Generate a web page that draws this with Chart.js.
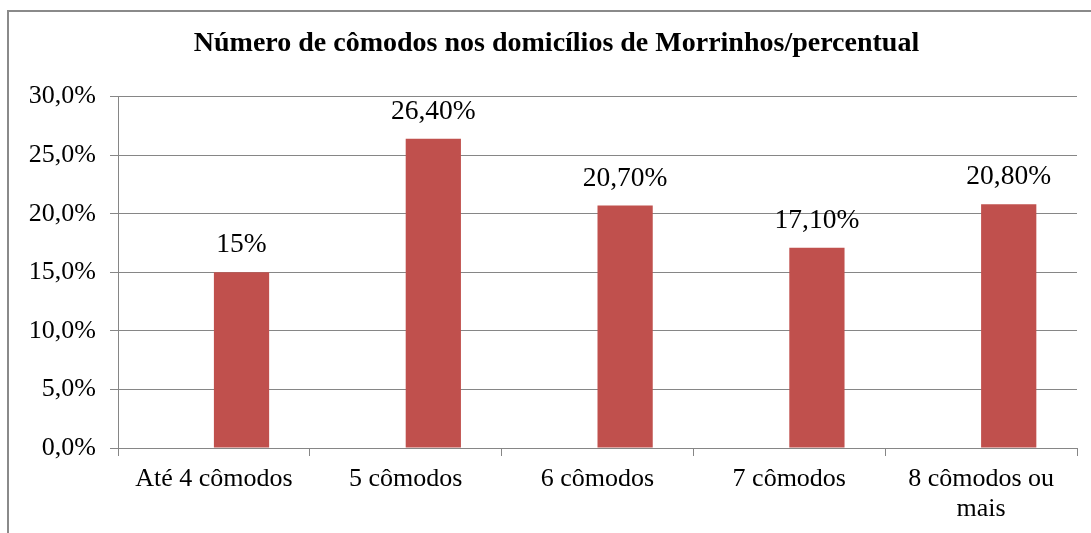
<!DOCTYPE html>
<html>
<head>
<meta charset="utf-8">
<script src="https://cdn.jsdelivr.net/npm/chart.js@4.4.1/dist/chart.umd.min.js"></script>
<style>
  html, body { margin: 0; padding: 0; background: #fff; }
  #wrap { position: relative; width: 1091px; height: 533px; }
  #frame {
    position: absolute; left: 7px; top: 10px; right: -10px; bottom: -10px;
    border-left: 2px solid #8a8a8a; border-top: 2px solid #8a8a8a;
  }
  canvas { position: absolute; left: 0; top: 0; }
</style>
</head>
<body>
<div id="wrap">
  <div id="frame"></div>
  <canvas id="chart" width="1091" height="533"></canvas>
</div>
<script>
const titleText = 'Número de cômodos nos domicílios de Morrinhos/percentual';
const categories = ['Até 4 cômodos', '5 cômodos', '6 cômodos', '7 cômodos', ['8 cômodos ou', 'mais']];
const percentValues = [15, 26.4, 20.7, 17.1, 20.8];
const valueLabels = ['15%', '26,40%', '20,70%', '17,10%', '20,80%'];
const emptySeries = [null, null, null, null, null]; // série vazia do Excel (desloca as barras)
const yTicks = [0, 5, 10, 15, 20, 25, 30];

const serif = "'Liberation Serif', 'Times New Roman', serif";
const gridColor = '#868686';

// rótulos de dados acima das barras
const barLabels = {
  id: 'barLabels',
  afterLayout(chart) {
    // o quadro original é mais largo que o recorte: título centrado mais à direita
    chart.titleBlock.left += 36;
  },
  afterDatasetsDraw(chart) {
    const ctx = chart.ctx;
    const meta = chart.getDatasetMeta(1);
    ctx.save();
    ctx.font = '27.5px ' + serif;
    ctx.fillStyle = '#000';
    ctx.textAlign = 'center';
    ctx.textBaseline = 'alphabetic';
    meta.data.forEach((bar, i) => {
      ctx.fillText(valueLabels[i], bar.x, bar.y - 20);
    });
    ctx.restore();
  }
};

const ctx = document.getElementById('chart').getContext('2d');
const chart = new Chart(ctx, {
  type: 'bar',
  data: {
    labels: categories,
    datasets: [
      {
        label: '',
        data: emptySeries,
        backgroundColor: 'rgba(0,0,0,0)'
      },
      {
        label: 'Percentual',
        data: percentValues,
        backgroundColor: '#C0504D'
      }
    ]
  },
  options: {
    responsive: false,
    animation: false,
    devicePixelRatio: 1,
    layout: { padding: { left: 0, right: 14, top: 27, bottom: 0 } },
    categoryPercentage: 0.576,
    barPercentage: 1,
    plugins: {
      legend: { display: false },
      tooltip: { enabled: false },
      title: {
        display: true,
        text: titleText,
        color: '#000',
        font: { family: serif, size: 28, weight: 'bold' },
        padding: { top: 0, bottom: 36 }
      }
    },
    scales: {
      x: {
        afterFit: (scale) => { scale.height = 85; },
        grid: {
          offset: true,
          drawOnChartArea: false,
          drawTicks: true,
          tickLength: 8,
          color: gridColor
        },
        border: { display: true, color: gridColor, width: 1 },
        ticks: {
          color: '#000',
          font: { family: serif, size: 26, lineHeight: 1.15 },
          padding: 8,
          maxRotation: 0,
          autoSkip: false
        }
      },
      y: {
        min: 0,
        max: 30,
        afterFit: (scale) => { scale.width = 118; },
        afterBuildTicks: (scale) => { scale.ticks = yTicks.map(v => ({ value: v })); },
        grid: {
          color: gridColor,
          drawTicks: true,
          tickLength: 8
        },
        border: { display: true, color: gridColor, width: 1 },
        ticks: {
          color: '#000',
          font: { family: serif, size: 26 },
          padding: 14,
          callback: (v) => v.toFixed(1).replace('.', ',') + '%'
        }
      }
    }
  },
  plugins: [barLabels]
});
</script>
</body>
</html>
